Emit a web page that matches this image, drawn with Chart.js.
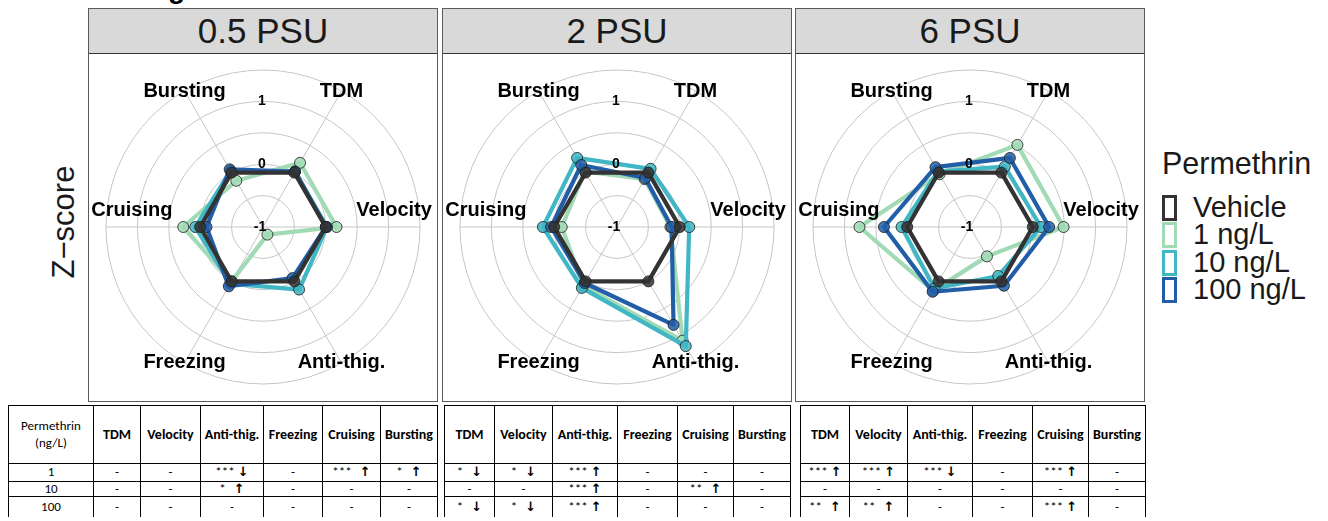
<!DOCTYPE html>
<html><head><meta charset="utf-8">
<script src="https://cdn.jsdelivr.net/npm/chart.js@4.4.0/dist/chart.umd.min.js"></script>
<style>
body{margin:0;width:1328px;height:521px;overflow:hidden;background:#fff;position:relative;font-family:"Liberation Sans",Arial,sans-serif;}
.abs{position:absolute;}
.panel{position:absolute;top:8px;height:394px;box-sizing:border-box;border:1px solid #5a5a5a;}
.strip{position:absolute;left:0;right:0;top:0;height:44px;background:#d9d9d9;border-bottom:1px solid #333;text-align:center;font-size:35px;line-height:44px;color:#1a1a1a;}
canvas{position:absolute;}
.key{position:absolute;left:1162px;width:15px;height:26px;box-sizing:border-box;border:3px solid;}
.leg{position:absolute;left:1193px;font-size:29px;line-height:29px;color:#1a1a1a;white-space:nowrap;}
.cell{position:absolute;box-sizing:border-box;border:1px solid #000;display:flex;align-items:center;justify-content:center;text-align:center;font-family:Carlito,Lato,"Liberation Sans",sans-serif;color:#000;white-space:nowrap;line-height:1.25;}
.hd{font-weight:bold;font-size:14px;}
.val{font-size:13px;}
.arr{font-family:"DejaVu Sans",sans-serif;font-weight:bold;font-size:13px;color:#000;margin-left:3px;}
</style></head>
<body>
<div class="abs" style="left:168px;top:-27px;font-size:28px;font-weight:bold;">g</div>
<div class="abs" style="left:64px;top:222px;transform:translate(-50%,-50%) rotate(-90deg);font-size:31px;white-space:nowrap;color:#1a1a1a;">Z&#8722;score</div>
<div id="root"></div>
<script>
// ---- data ----
const categories = ['TDM', 'Velocity', 'Anti-thig.', 'Freezing', 'Cruising', 'Bursting'];
const panelTitles = ['0.5 PSU', '2 PSU', '6 PSU'];
const seriesNames = ['Vehicle', '1 ng/L', '10 ng/L', '100 ng/L'];
const tickValuesShown = [-1, 0, 1];

const vehicle_05 = [0, 0, 0, 0, 0, 0];
const ng1_05   = [0.18, 0.17, -0.86, 0.00, 0.27, -0.15];
const ng10_05  = [0.02, 0.02, 0.15, 0.04, 0.08, 0.03];
const ng100_05 = [0.02, 0.00, -0.06, 0.09, -0.10, 0.06];

const vehicle_2 = [0, 0, 0, 0, 0, 0];
const ng1_2   = [-0.12, -0.15, 1.09, 0.08, -0.12, 0.02];
const ng10_2  = [0.07, 0.15, 1.19, 0.12, 0.18, 0.27];
const ng100_2 = [-0.10, -0.13, 0.80, 0.03, 0.05, 0.14];

const vehicle_6 = [0, 0, 0, 0, 0, 0];
const ng1_6   = [0.51, 0.49, -0.46, 0.17, 0.76, -0.03];
const ng10_6  = [0.11, 0.13, -0.10, 0.13, 0.09, 0.02];
const ng100_6 = [0.27, 0.26, 0.08, 0.19, 0.37, 0.10];

const tableRowLabels = ['1', '10', '100'];
const sig_05 = [
  ['-', '-', '***|↓', '-', '***  |↑', '*  |↑'],
  ['-', '-', '*  |↑', '-', '-', '-'],
  ['-', '-', '-', '-', '-', '-']
];
const sig_2 = [
  ['*  |↓', '*  |↓', '***|↑', '-', '-', '-'],
  ['-', '-', '***|↑', '-', '**  |↑', '-'],
  ['*  |↓', '*  |↓', '***|↑', '-', '-', '-']
];
const sig_6 = [
  ['***|↑', '***|↑', '***|↓', '-', '***|↑', '-'],
  ['-', '-', '-', '-', '-', '-'],
  ['**  |↑', '**  |↑', '-', '-', '***|↑', '-']
];

// ---- styling ----
const colors = ['#333333', '#A1DAB4', '#41B6C4', '#225EA8'];
const pointFills = ['rgba(51,51,51,0.85)', 'rgba(161,218,180,0.85)', 'rgba(65,182,196,0.85)', 'rgba(34,94,168,0.85)'];
const drawOrder = [0, 3, 2, 1];

const panels = [
  {left: 88, title: panelTitles[0], series: [vehicle_05, ng1_05, ng10_05, ng100_05]},
  {left: 442, title: panelTitles[1], series: [vehicle_2, ng1_2, ng10_2, ng100_2]},
  {left: 795, title: panelTitles[2], series: [vehicle_6, ng1_6, ng10_6, ng100_6]}
];

const root = document.getElementById('root');

const axisLabelPlugin = {
  id: 'axisLabels',
  afterDatasetsDraw(chart) {
    const s = chart.scales.r;
    const ctx = chart.ctx;
    ctx.save();
    ctx.font = 'bold 14px "Liberation Sans", Arial, sans-serif';
    ctx.fillStyle = '#000';
    ctx.textAlign = 'center';
    ctx.textBaseline = 'middle';
    tickValuesShown.forEach(v => {
      const dist = s.getDistanceFromCenterForValue(v);
      ctx.fillText(String(v), s.xCenter - (v < 0 ? 3 : 1), s.yCenter - dist);
    });
    ctx.font = 'bold 20px "Liberation Sans", Arial, sans-serif';
    chart.data.labels.forEach((lab, i) => {
      const horiz = (i === 1 || i === 4);
      const p = s.getPointPosition(i, s.drawingArea * (horiz ? 0.835 : 1.0));
      ctx.fillText(lab, p.x, p.y + (horiz ? -17 : 0));
    });
    ctx.restore();
  }
};

panels.forEach(pn => {
  const d = document.createElement('div');
  d.className = 'panel';
  d.style.left = pn.left + 'px';
  d.style.width = '350px';
  const st = document.createElement('div');
  st.className = 'strip';
  st.textContent = pn.title;
  d.appendChild(st);
  root.appendChild(d);

  const c = document.createElement('canvas');
  c.width = 350; c.height = 347;
  c.style.left = pn.left + 'px';
  c.style.top = '52px';
  root.appendChild(c);

  new Chart(c, {
    type: 'radar',
    data: {
      labels: categories,
      datasets: pn.series.map((vals, k) => ({
        label: seriesNames[k],
        data: vals,
        order: drawOrder[k],
        borderColor: colors[k],
        borderWidth: 4.2,
        borderJoinStyle: 'round',
        backgroundColor: 'transparent',
        fill: false,
        pointRadius: 5.5,
        pointBackgroundColor: pointFills[k],
        pointBorderColor: '#1a1a1a',
        pointBorderWidth: 0.8
      }))
    },
    options: {
      responsive: false,
      animation: false,
      devicePixelRatio: 1,
      layout: {padding: {left: 9, right: 9, top: 9, bottom: 6}},
      plugins: {legend: {display: false}, tooltip: {enabled: false}},
      scales: {
        r: {
          min: -1, max: 1.5,
          startAngle: 30,
          ticks: {
            stepSize: 0.5,
            callback: v => tickValuesShown.includes(v) ? String(v) : '',
            showLabelBackdrop: false,
            color: 'rgba(0,0,0,0)',
            font: {size: 14, weight: 'bold', family: '"Liberation Sans", Arial, sans-serif'}
          },
          grid: {color: '#c6c6c6', lineWidth: 1, circular: true},
          angleLines: {color: '#c6c6c6', lineWidth: 1},
          pointLabels: {display: false}
        }
      }
    },
    plugins: [axisLabelPlugin]
  });
});

// ---- legend ----
const legTitle = document.createElement('div');
legTitle.className = 'abs';
legTitle.style.cssText = 'left:1162px;top:148px;font-size:30.5px;line-height:30px;color:#1a1a1a;';
legTitle.textContent = 'Permethrin';
root.appendChild(legTitle);
seriesNames.forEach((n, k) => {
  const key = document.createElement('div');
  key.className = 'key';
  key.style.top = (195 + k * 27.3) + 'px';
  key.style.borderColor = colors[k];
  root.appendChild(key);
  const t = document.createElement('div');
  t.className = 'leg';
  t.style.top = (193 + k * 27.3) + 'px';
  t.textContent = n;
  root.appendChild(t);
});

// ---- tables ----
const rowEdges = [405, 463, 481, 496, 516];
const tables = [
  {cols: [8, 93, 140, 200, 263, 322, 380, 437], first: true, sig: sig_05},
  {cols: [444, 494, 552, 617, 677, 733, 790], first: false, sig: sig_2},
  {cols: [800, 849, 907, 972, 1032, 1088, 1145], first: false, sig: sig_6}
];
function cell(x0, x1, y0, y1, html, cls, last) {
  const e = document.createElement('div');
  e.className = 'cell ' + cls;
  e.style.left = x0 + 'px';
  e.style.top = y0 + 'px';
  e.style.width = (x1 - x0 + 1) + 'px';
  e.style.height = (y1 - y0 + 1) + 'px';
  if (last) e.style.borderBottom = 'none';
  e.innerHTML = html;
  root.appendChild(e);
}
function fmt(s) {
  if (s.indexOf('|') < 0) return s;
  const [st, ar] = s.split('|');
  return '<span style="white-space:pre">' + st.replace(/ +$/, '') + '</span><span class="arr" style="margin-left:' + (st.length > st.trimEnd().length ? 8 : 3) + 'px">' + ar + '</span>';
}
tables.forEach(tb => {
  const cols = tb.cols;
  let ci = 0;
  if (tb.first) {
    cell(cols[0], cols[1], rowEdges[0], rowEdges[1], 'Permethrin<br>(ng/L)', 'val', false);
    tableRowLabels.forEach((r, i) => cell(cols[0], cols[1], rowEdges[i + 1], rowEdges[i + 2], r, 'val', i === 2));
    ci = 1;
  }
  categories.forEach((cat, j) => {
    const x0 = cols[ci + j], x1 = cols[ci + j + 1];
    cell(x0, x1, rowEdges[0], rowEdges[1], cat, 'hd', false);
    tb.sig.forEach((row, i) => cell(x0, x1, rowEdges[i + 1], rowEdges[i + 2], fmt(row[j]), 'val', i === 2));
  });
});
</script>
</body></html>
